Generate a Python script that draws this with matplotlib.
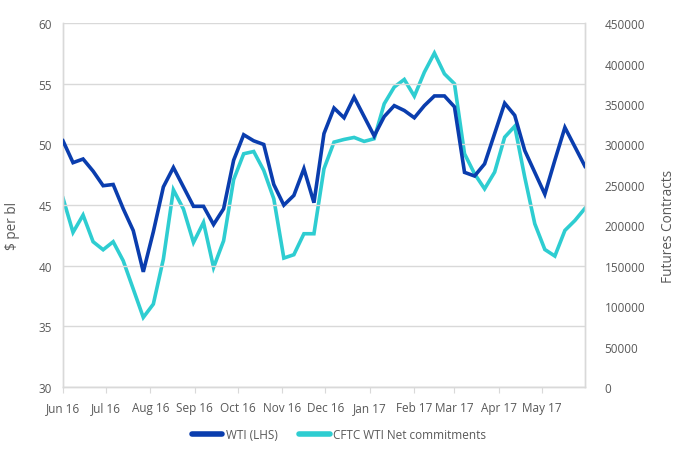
import numpy as np
import pandas as pd
import matplotlib
matplotlib.use("Agg")
import matplotlib.pyplot as plt
import matplotlib.dates as mdates

plt.rcParams["font.family"] = ["Open Sans", "DejaVu Sans"]

# weekly observations, Jun 2016 - May 2017
dates = pd.date_range("2016-06-01", periods=53, freq="7D")

wti = [50.3, 48.5, 48.8, 47.8, 46.6, 46.7, 44.7, 42.9, 39.5, 42.8,
       46.5, 48.1, 46.5, 44.9, 44.9, 43.4, 44.7, 48.7, 50.8, 50.3,
       50.0, 46.7, 45.0, 45.8, 48.0, 45.2, 50.9, 53.0, 52.2, 53.9,
       52.3, 50.7, 52.3, 53.2, 52.8, 52.2, 53.2, 54.0, 54.0, 53.1,
       47.7, 47.4, 48.4, 50.9, 53.4, 52.4, 49.5, 47.7, 45.9, 48.7,
       51.4, 49.8, 48.2]

cftc = [233700, 191300, 212700, 179700, 169800, 179700, 156200, 121200, 86100, 102600,
        158300, 243900, 220100, 178800, 203600, 147900, 180900, 256500, 288500, 291300,
        267900, 232800, 159500, 163700, 189600, 189600, 270000, 302900, 306200, 308700,
        303800, 307100, 350300, 371000, 380400, 359700, 389400, 413000, 387300, 375000,
        288500, 263700, 245100, 265800, 309000, 322500, 259500, 201900, 170100, 162000,
        193700, 206000, 221000]

dark_blue = "#0A3DAE"
cyan = "#2ECDD1"
grey_txt = "#595959"
grid_col = "#D9D9D9"

fig = plt.figure(figsize=(6.78, 4.56), dpi=100)
ax = fig.add_axes([0.0929, 0.149, 0.7699, 0.798])
ax2 = ax.twinx()

ax.plot(dates, wti, color=dark_blue, lw=2.6, solid_joinstyle="miter", zorder=3,
        label="WTI (LHS)")
ax2.plot(dates, cftc, color=cyan, lw=2.6, solid_joinstyle="miter", zorder=2,
         label="CFTC WTI Net commitments")

ax.set_zorder(ax2.get_zorder() + 1)
ax.patch.set_visible(False)

ax.set_xlim(dates[0], dates[-1])
ax.set_ylim(30, 60)
ax.set_yticks(np.arange(30, 61, 5))
ax2.set_ylim(0, 450000)
ax2.set_yticks(np.arange(0, 450001, 50000))

ax.xaxis.set_major_locator(mdates.MonthLocator())
ax.xaxis.set_major_formatter(mdates.DateFormatter("%b %y"))

ax.yaxis.grid(True, color=grid_col, lw=1)
ax.set_axisbelow(True)

for a in (ax, ax2):
    a.spines["top"].set_visible(False)
    for s in ("left", "right", "bottom"):
        a.spines[s].set_color(grid_col)
        a.spines[s].set_linewidth(1)
    a.tick_params(axis="y", length=0, labelsize=8.5, labelcolor=grey_txt)

ax.tick_params(axis="x", length=4, color=grid_col, labelsize=8.5,
               labelcolor=grey_txt, pad=6)
ax.tick_params(axis="y", pad=8)
ax2.tick_params(axis="y", pad=14)

ax.set_ylabel("$ per bl", color=grey_txt, fontsize=9.8)
ax2.set_ylabel("Futures Contracts", color=grey_txt, fontsize=9.8)
ax.yaxis.set_label_coords(-0.082, 0.445)
ax2.yaxis.set_label_coords(1.146, 0.445)

h1, l1 = ax.get_legend_handles_labels()
h2, l2 = ax2.get_legend_handles_labels()
leg = fig.legend(h1 + h2, l1 + l2, loc="center", bbox_to_anchor=(0.5, 0.044),
                 ncol=2, frameon=False, fontsize=8.5, handlelength=2.6,
                 handletextpad=0.3, columnspacing=1.8)
for line in leg.get_lines():
    line.set_linewidth(4)
    line.set_solid_capstyle("round")
for t in leg.get_texts():
    t.set_color(grey_txt)

fig.savefig("out.png", dpi=100)
